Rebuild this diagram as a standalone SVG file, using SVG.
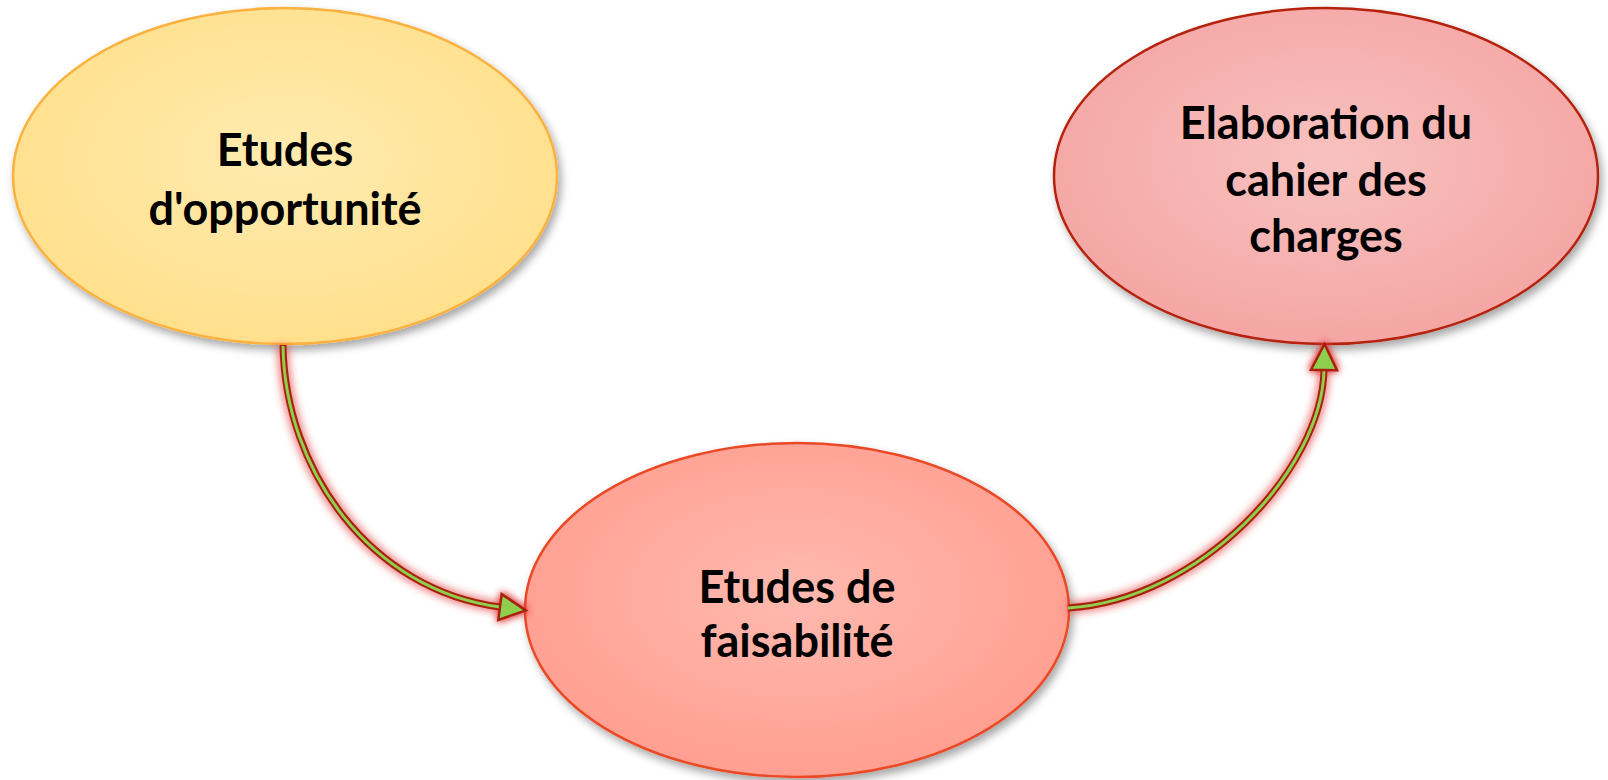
<svg xmlns="http://www.w3.org/2000/svg" width="1608" height="780" viewBox="0 0 1608 780">
<defs>
<radialGradient id="gY" cx="50%" cy="45%" r="55%"><stop offset="0" stop-color="#FFEBB0"/><stop offset="1" stop-color="#FFE08C"/></radialGradient>
<radialGradient id="gS" cx="50%" cy="45%" r="55%"><stop offset="0" stop-color="#FFB9AF"/><stop offset="1" stop-color="#FF9F91"/></radialGradient>
<radialGradient id="gP" cx="50%" cy="45%" r="55%"><stop offset="0" stop-color="#F8C2C0"/><stop offset="1" stop-color="#F4A6A4"/></radialGradient>
<filter id="sh" x="-10%" y="-10%" width="125%" height="130%"><feDropShadow dx="3" dy="5" stdDeviation="4" flood-color="#000" flood-opacity="0.35"/></filter>
<filter id="glow" x="-20%" y="-20%" width="140%" height="140%"><feGaussianBlur stdDeviation="3.5"/></filter>
<marker id="ah" viewBox="0 0 30 30" refX="2" refY="15" markerWidth="30" markerHeight="30" markerUnits="userSpaceOnUse" orient="auto"><path d="M2 2 L28 15 L2 28 Z" fill="#8ECF4E" stroke="#A8210E" stroke-width="2.5" stroke-linejoin="miter"/></marker>
<marker id="ahg" viewBox="0 0 30 30" refX="2" refY="15" markerWidth="30" markerHeight="30" markerUnits="userSpaceOnUse" orient="auto"><path d="M2 2 L28 15 L2 28 Z" fill="#E03030" stroke="#E03030" stroke-width="6"/></marker>
</defs>
<style>
.t{font-family:"Lato","Liberation Sans",sans-serif;font-weight:700;font-size:45px;fill:#000;text-anchor:middle}
.glow{fill:none;stroke:#E03535;stroke-width:13;stroke-opacity:0.55}
.out{fill:none;stroke:#A8210E;stroke-width:7}
.in{fill:none;stroke:#8ECF4E;stroke-width:3}
</style>
<g id="node1">
<ellipse cx="285" cy="176" rx="272" ry="168" fill="url(#gY)" stroke="#FBB13F" stroke-width="2.5" filter="url(#sh)"/>
<text class="t" x="285" y="166">Etudes</text>
<text class="t" x="285" y="225">d'opportunité</text>
</g>
<g id="node2">
<ellipse cx="797" cy="610" rx="272" ry="167" fill="url(#gS)" stroke="#EA4A26" stroke-width="2.5" filter="url(#sh)"/>
<text class="t" x="797" y="603">Etudes de</text>
<text class="t" x="797" y="657">faisabilité</text>
</g>
<g id="node3">
<ellipse cx="1326" cy="176" rx="272" ry="168" fill="url(#gP)" stroke="#B5220D" stroke-width="2.5" filter="url(#sh)"/>
<text class="t" x="1326" y="139">Elaboration du</text>
<text class="t" x="1326" y="196">cahier des</text>
<text class="t" x="1326" y="252">charges</text>
</g>
<g id="connectors">
<g filter="url(#glow)">
<path class="glow" d="M283 345 C285 470 370 590 500 607" marker-end="url(#ahg)"/>
<path class="glow" d="M1068 608 C1200 600 1322 470 1324 370" marker-end="url(#ahg)"/>
</g>
<path class="out" d="M283 345 C285 470 370 590 500 607"/>
<path class="in" d="M283 346 C285 470 370 590 500 607" marker-end="url(#ah)"/>
<path class="out" d="M1068 608 C1200 600 1322 470 1324 370"/>
<path class="in" d="M1068 608 C1200 600 1322 470 1324 370" marker-end="url(#ah)"/>
</g>
</svg>
